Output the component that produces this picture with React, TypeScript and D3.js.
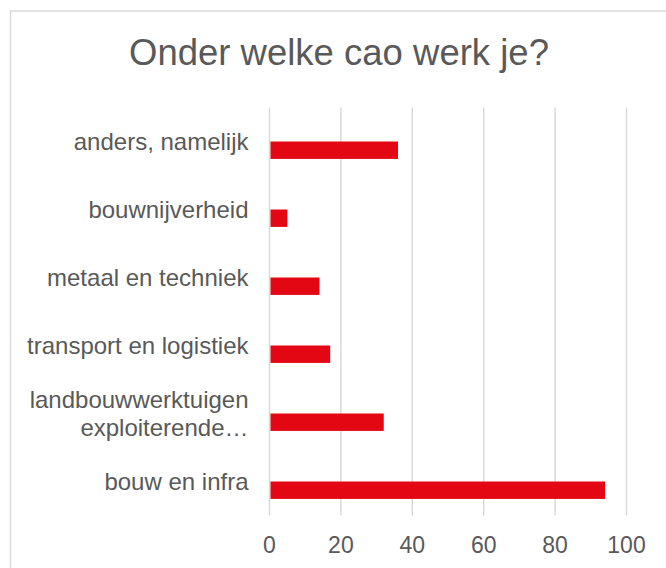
import React from 'react';
import * as d3 from 'd3';

// categories listed top to bottom, as in the chart
const categories = [
  'anders, namelijk',
  'bouwnijverheid',
  'metaal en techniek',
  'transport en logistiek',
  'landbouwwerktuigen exploiterende…',
  'bouw en infra',
];
const values = [36, 5, 14, 17, 32, 94];
const xTicks = [0, 20, 40, 60, 80, 100];
const title = 'Onder welke cao werk je?';

// the long label wraps into two lines
const labelLines: Record<string, string[]> = {
  'landbouwwerktuigen exploiterende…': ['landbouwwerktuigen', 'exploiterende…'],
};

const WIDTH = 666;
const HEIGHT = 568;
const TEXT = '#595959';
const GRID = '#d9d9d9';
const BAR = '#e30613';
const FONT = 'Arial, "Liberation Sans", sans-serif';

const App = () => {
  const margin = { top: 107.5, left: 269.5, right: 39.5, bottom: 52.5 };
  const plotW = WIDTH - margin.left - margin.right;
  const plotH = HEIGHT - margin.top - margin.bottom;

  const x = d3.scaleLinear().domain([0, 100]).range([0, plotW]);
  const y = d3.scaleBand().domain(categories).range([0, plotH]);
  const bw = y.bandwidth();
  const barH = bw * 0.256;

  return (
    <div style={{ position: 'absolute', left: 0, top: 0 }}>
      <svg width={WIDTH} height={HEIGHT} style={{ display: 'block', fontFamily: FONT }}>
        <rect x={0} y={0} width={WIDTH} height={HEIGHT} fill="#fff" />
        <rect x={10.5} y={11} width={WIDTH} height={HEIGHT} fill="none" stroke={GRID} strokeWidth={1.5} />

        <text x={339} y={65} textAnchor="middle" fontSize={36.5} fill={TEXT}>
          {title}
        </text>

        <g transform={`translate(${margin.left},${margin.top})`}>
          {xTicks.map((t) => (
            <line key={'g' + t} x1={x(t)} x2={x(t)} y1={0} y2={plotH} stroke={GRID} strokeWidth={1.5} />
          ))}

          {categories.map((c, i) => (
            <rect
              key={c}
              x={x(0) + 1}
              y={(y(c) ?? 0) + bw / 2}
              width={x(values[i]) - x(0) - 1}
              height={barH}
              fill={BAR}
            />
          ))}

          {categories.map((c) => {
            const lines = labelLines[c] ?? [c];
            const cy = (y(c) ?? 0) + bw / 2;
            const lh = 27.7;
            return (
              <text key={'l' + c} x={-21} textAnchor="end" fontSize={24} fill={TEXT}>
                {lines.map((ln, j) => (
                  <tspan key={j} x={-21} y={cy - ((lines.length - 1) * lh) / 2 + j * lh} dy="0.34em">
                    {ln}
                  </tspan>
                ))}
              </text>
            );
          })}

          {xTicks.map((t) => (
            <text key={'t' + t} x={x(t)} y={plotH + 37.5} textAnchor="middle" fontSize={23} fill={TEXT}>
              {t}
            </text>
          ))}
        </g>
      </svg>
    </div>
  );
};

export default App;
